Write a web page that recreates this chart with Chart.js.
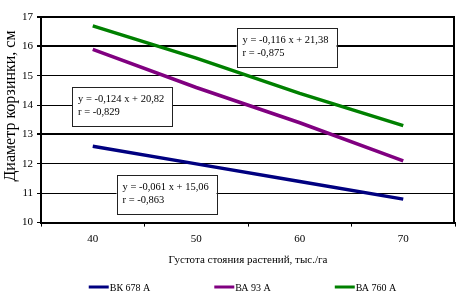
<!DOCTYPE html>
<html><head><meta charset="utf-8">
<script src="https://cdn.jsdelivr.net/npm/chart.js@4"></script>
<style>html,body{margin:0;padding:0;background:#fff}#wrap{width:457px;height:303px}</style>
</head><body><div id="wrap"><canvas id="c" width="457" height="303"></canvas></div>
<script>
const categories = ['40', '50', '60', '70'];
const seriesNames = ['ВК 678 А', 'ВА 93 А', 'ВА 760 А'];
const bk678 = [12.6, 12.0, 11.4, 10.8];
const ba93 = [15.9, 14.6, 13.4, 12.1];
const ba760 = [16.7, 15.6, 14.4, 13.3];
const yMin = 10, yMax = 17, yStep = 1;
const equations = [
  ['y = -0,061 x + 15,06', 'r = -0,863'],
  ['y = -0,124 x + 20,82', 'r = -0,829'],
  ['y = -0,116 x + 21,38', 'r = -0,875']
];
const yTitle = 'Диаметр корзинки, см';
const xTitle = 'Густота стояния растений, тыс./га';

const SERIF = '"Liberation Serif", "DejaVu Serif", serif';
const colors = ['#000080', '#800080', '#008000'];

// annotation anchors (top-left) in data space: fractional category index, y value
const boxAnchors = [
  {x: 0.23, y: 11.62},
  {x: -0.2, y: 14.62},
  {x: 1.39, y: 16.62}
];

const annotPlugin = {
  id: 'annot',
  afterDatasetsDraw(chart) {
    const ctx = chart.ctx, xs = chart.scales.x, ys = chart.scales.y;
    const ca = chart.chartArea;
    ctx.save();
    ctx.strokeStyle = '#000'; ctx.lineWidth = 2;
    ctx.beginPath(); ctx.moveTo(ca.right - 1, ca.top); ctx.lineTo(ca.right - 1, ca.bottom); ctx.stroke();
    ctx.font = '10.5px ' + SERIF;
    ctx.textBaseline = 'middle';
    boxAnchors.forEach((a, i) => {
      const left = xs.getPixelForValue(a.x);
      const top = ys.getPixelForValue(a.y);
      const w = 100, h = 39;
      ctx.fillStyle = '#fff';
      ctx.fillRect(left, top, w, h);
      ctx.strokeStyle = '#222'; ctx.lineWidth = 1;
      ctx.strokeRect(Math.round(left) + 0.5, Math.round(top) + 0.5, w, h);
      ctx.fillStyle = '#000';
      ctx.fillText(equations[i][0], left + 6, top + 12);
      ctx.fillText(equations[i][1], left + 6, top + 25);
    });
    ctx.restore();
  },
  afterDraw(chart) {
    const ctx = chart.ctx;
    ctx.save();
    // y-axis title
    ctx.font = '16px ' + SERIF;
    ctx.fillStyle = '#000';
    ctx.textAlign = 'center';
    ctx.textBaseline = 'middle';
    ctx.translate(11, 106);
    ctx.rotate(-Math.PI / 2);
    ctx.fillText(yTitle, 0, 0);
    ctx.restore();

    ctx.save();
    ctx.font = '10px ' + SERIF;
    ctx.textBaseline = 'middle';
    const lineLen = 20, gapText = 1, gapItem = 64;
    const widths = chart.data.datasets.map(d => lineLen + gapText + ctx.measureText(d.label).width);
    const total = widths.reduce((a, b) => a + b, 0) + gapItem * (widths.length - 1);
    let x = chart.width / 2 + 14 - total / 2;
    const y = 287;
    chart.data.datasets.forEach((d, i) => {
      ctx.strokeStyle = d.borderColor; ctx.lineWidth = 3;
      ctx.beginPath(); ctx.moveTo(x, y); ctx.lineTo(x + lineLen, y); ctx.stroke();
      ctx.fillStyle = '#000';
      ctx.fillText(d.label, x + lineLen + gapText, y + 1);
      x += widths[i] + gapItem;
    });
    ctx.restore();
  }
};

new Chart(document.getElementById('c'), {
  type: 'line',
  data: {
    labels: categories,
    datasets: [
      {label: seriesNames[0], data: bk678, borderColor: colors[0]},
      {label: seriesNames[1], data: ba93, borderColor: colors[1]},
      {label: seriesNames[2], data: ba760, borderColor: colors[2]}
    ].map(d => Object.assign(d, {borderWidth: 3.5, pointRadius: 0, tension: 0, fill: false, backgroundColor: d.borderColor}))
  },
  options: {
    responsive: false,
    animation: false,
    devicePixelRatio: 1,
    layout: {padding: {top: 17, right: 2, bottom: 36, left: 18}},
    plugins: {legend: {display: false}, tooltip: {enabled: false}},
    scales: {
      x: {
        offset: true,
        grid: {drawOnChartArea: false, offset: true, tickLength: 4, tickColor: '#000', tickWidth: 1},
        border: {color: '#000', width: 2},
        ticks: {color: '#000', font: {family: SERIF, size: 11}, padding: 6, maxRotation: 0},
        title: {display: true, text: xTitle, color: '#000', font: {family: SERIF, size: 11}, padding: {top: 2, bottom: 0}}
      },
      y: {
        min: yMin, max: yMax,
        grid: {
          color: '#000',
          lineWidth: c => (c.tick && (c.tick.value === 13 || c.tick.value === 16 || c.tick.value === 17)) ? 2 : 1,
          tickLength: 4, tickColor: '#000'
        },
        border: {color: '#000', width: 2},
        ticks: {stepSize: yStep, color: '#000', font: {family: SERIF, size: 11}, padding: 4},
        title: {display: false}
      }
    }
  },
  plugins: [annotPlugin]
});
</script>
</body></html>
